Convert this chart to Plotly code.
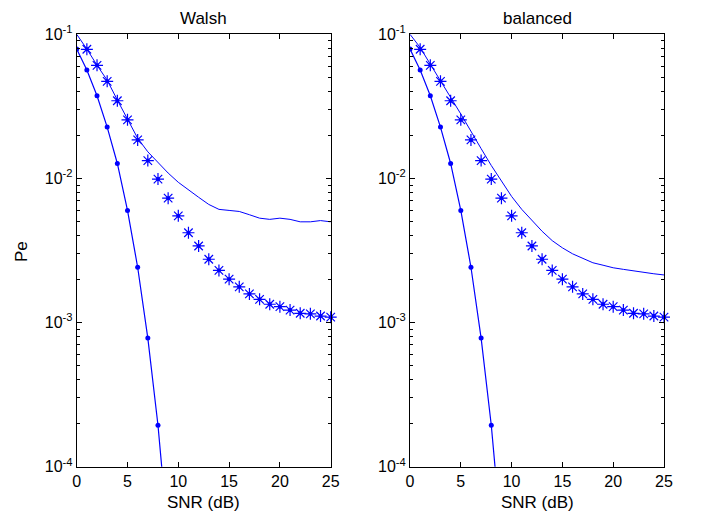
import plotly.graph_objects as go

BLUE = "#0000ff"
FONT = "Liberation Sans, Arial, sans-serif"

# page body has an 8px margin, so the figure is sized to fit inside the window
PAD = 8
W, H = 701 - PAD, 512 - PAD


def px(x):
    return (x - PAD) / W


def py(y):
    return 1 - (y - PAD) / H


# ── Data ──────────────────────────────────────────────────────────────────────

snr = list(range(26))
snr_steep = list(range(10))

pe_steep = [0.079, 0.0565, 0.0375, 0.0227, 0.0127, 0.0060, 0.00242, 0.00078,
            0.000194, 3.2e-5]

pe_star = [0.1, 0.0787, 0.0609, 0.0472, 0.0346, 0.0255, 0.0185, 0.0133, 0.0099,
           0.0073, 0.0055, 0.0042, 0.0034, 0.00275, 0.0023, 0.0020, 0.00177,
           0.00158, 0.00145, 0.00134, 0.00129, 0.00122, 0.00116, 0.00115,
           0.00111, 0.00109]

pe_walsh = [0.1, 0.079, 0.061, 0.048, 0.035, 0.026, 0.019, 0.0153, 0.0128,
            0.0109, 0.0094, 0.0083, 0.0074, 0.0066, 0.0061, 0.0060, 0.0059,
            0.0056, 0.0053, 0.0052, 0.0053, 0.0052, 0.0050, 0.0050, 0.0051,
            0.0050]

pe_balanced = [0.1, 0.081, 0.062, 0.048, 0.0365, 0.028, 0.021, 0.0161, 0.0123,
               0.0095, 0.0075, 0.0061, 0.0051, 0.0043, 0.0037, 0.0033, 0.0030,
               0.0028, 0.0026, 0.0025, 0.0024, 0.00234, 0.00228, 0.00223,
               0.00218, 0.00214]

panel_titles = ["Walsh", "balanced"]
x_ticks = [0, 5, 10, 15, 20, 25]
y_ticks = [1e-4, 1e-3, 1e-2, 1e-1]
y_ticktext = ["10<sup>-4</sup>", "10<sup>-3</sup>", "10<sup>-2</sup>", "10<sup>-1</sup>"]

# ── Figure ────────────────────────────────────────────────────────────────────

fig = go.Figure()

panels = [("x", "y", pe_walsh), ("x2", "y2", pe_balanced)]
for xa, ya, upper in panels:
    fig.add_trace(go.Scatter(
        x=snr, y=upper, xaxis=xa, yaxis=ya, mode="lines",
        line=dict(color=BLUE, width=1),
    ))
    fig.add_trace(go.Scatter(
        x=snr, y=pe_star, xaxis=xa, yaxis=ya, mode="markers",
        marker=dict(symbol="asterisk-open", size=10, color=BLUE,
                    line=dict(color=BLUE, width=1.2)),
        cliponaxis=False,
    ))
    fig.add_trace(go.Scatter(
        x=snr, y=pe_star, xaxis=xa, yaxis=ya, mode="markers",
        marker=dict(symbol="circle", size=4, color=BLUE),
        cliponaxis=False,
    ))
    fig.add_trace(go.Scatter(
        x=snr_steep, y=pe_steep, xaxis=xa, yaxis=ya, mode="lines+markers",
        line=dict(color=BLUE, width=1.2),
        marker=dict(symbol="circle", size=5, color=BLUE),
    ))

x_common = dict(
    range=[0, 25], tickvals=x_ticks, ticks="inside", ticklen=5,
    tickcolor="black", showline=True, linecolor="black", linewidth=1,
    mirror="ticks", showgrid=False, zeroline=False, automargin=False,
    tickfont=dict(family=FONT, size=16, color="black"),
)
y_common = dict(
    type="log", range=[-4, -1], tickvals=y_ticks, ticktext=y_ticktext,
    ticks="inside", ticklen=5, tickcolor="black", showline=True,
    linecolor="black", linewidth=1, mirror="ticks", showgrid=False,
    zeroline=False, automargin=False,
    tickfont=dict(family=FONT, size=16, color="black"),
    minor=dict(ticks="inside", ticklen=3, tickcolor="black", dtick="D1",
               showgrid=False),
)

y_dom = [py(466.7), py(34.3)]
fig.update_layout(
    width=W, height=H,
    margin=dict(l=0, r=0, t=0, b=0, autoexpand=False),
    plot_bgcolor="white", paper_bgcolor="white",
    showlegend=False,
    font=dict(family=FONT, size=17, color="black"),
    xaxis=dict(domain=[px(76.7), px(330.7)], anchor="y", **x_common),
    yaxis=dict(domain=y_dom, anchor="x", **y_common),
    xaxis2=dict(domain=[px(410), px(664)], anchor="y2", **x_common),
    yaxis2=dict(domain=y_dom, anchor="x2", **y_common),
)

# titles and axis labels
label = dict(xref="paper", yref="paper", showarrow=False,
             xanchor="center", yanchor="middle", font=dict(size=17))
for cx, title in zip([203.7, 537], panel_titles):
    fig.add_annotation(x=px(cx), y=py(18.5), text=title, **label)
    fig.add_annotation(x=px(cx), y=py(502), text="SNR (dB)", **label)

fig.add_annotation(x=px(21), y=py(252), text="Pe", textangle=-90, **label)

fig.write_html("out.html")
